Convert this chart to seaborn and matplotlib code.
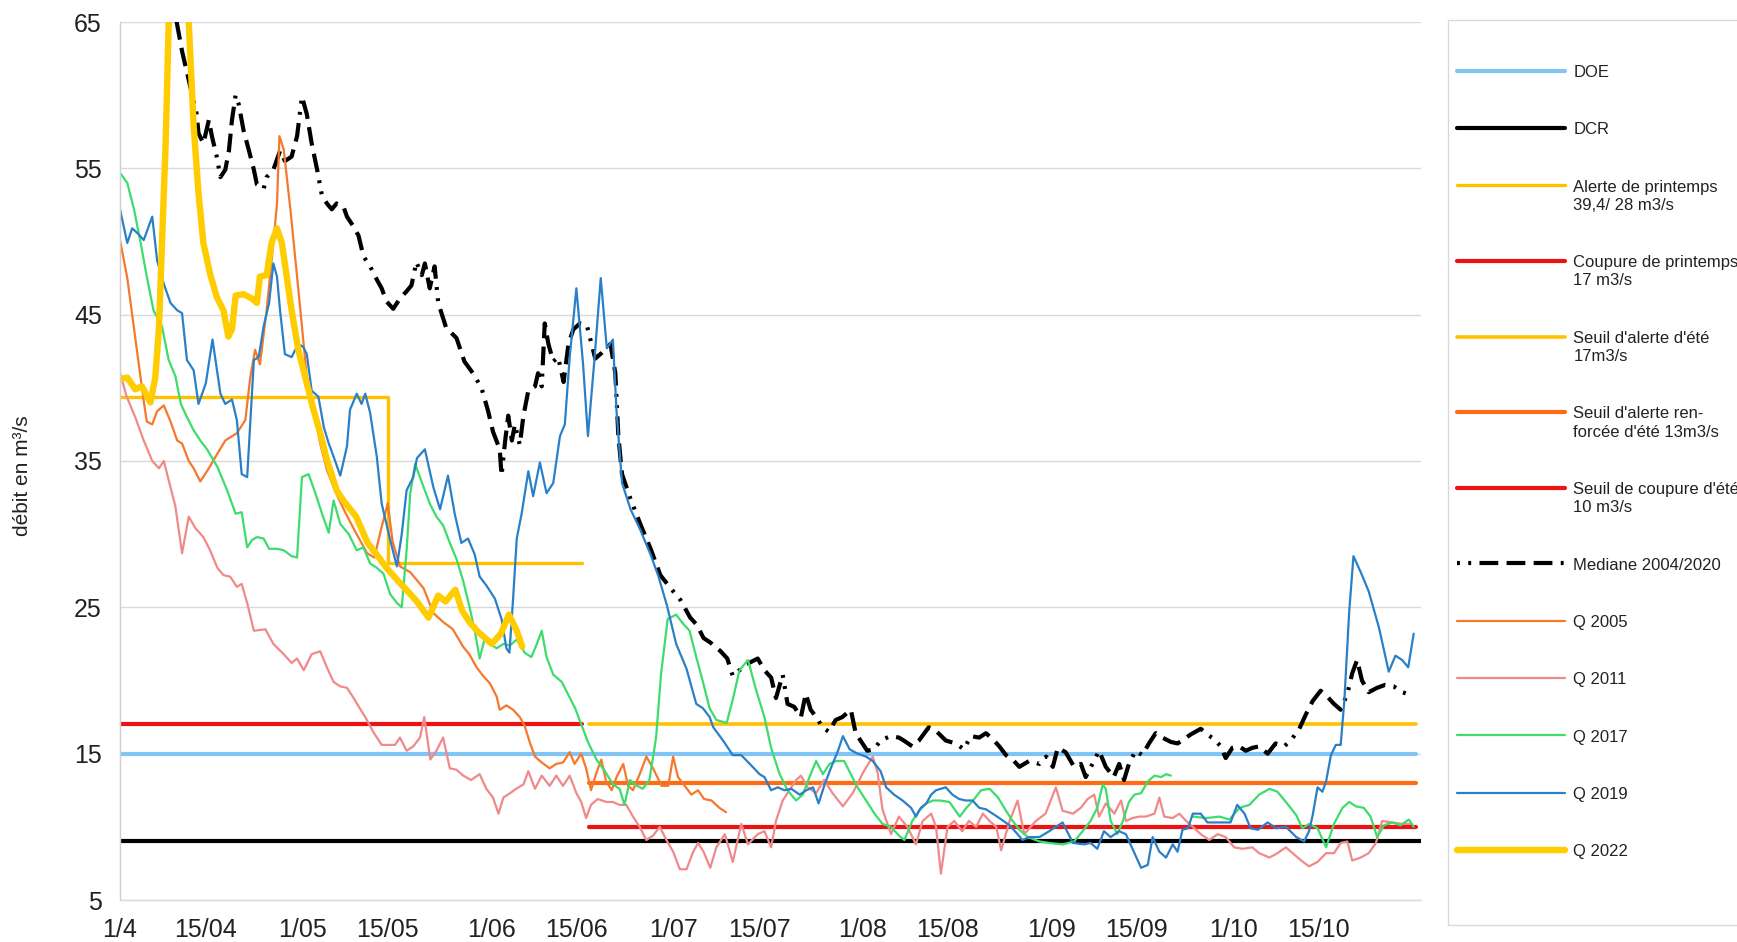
import numpy as np
import pandas as pd
import matplotlib
matplotlib.use("Agg")
import matplotlib.pyplot as plt
from matplotlib.patches import Rectangle
import seaborn as sns

# ---------------------------------------------------------------
# Axis definitions (day 0 = 1st April)
# ---------------------------------------------------------------
tick_days = [0, 14, 30, 44, 61, 75, 91, 105, 122, 136, 153, 167, 183, 197]
tick_labels = ["1/4", "15/04", "1/05", "15/05", "1/06", "15/06", "1/07",
               "15/07", "1/08", "15/08", "1/09", "15/09", "1/10", "15/10"]
y_ticks = [5, 15, 25, 35, 45, 55, 65]

# ---------------------------------------------------------------
# Regulatory thresholds (day, m3/s)
# ---------------------------------------------------------------
doe = [(0, 15), (213, 15)]
dcr = [(0, 9), (213.8, 9)]
alerte_printemps = [(0, 39.4), (44, 39.4), (44, 28), (76, 28)]
coupure_printemps = [(0, 17), (76, 17)]
alerte_ete = [(77, 17), (213, 17)]
alerte_renforcee = [(77, 13), (213, 13)]
coupure_ete = [(77, 10), (213, 10)]

# ---------------------------------------------------------------
# Flow series (day, m3/s)
# ---------------------------------------------------------------
mediane = [
    (8.5, 67.0), (9.4, 64.8), (10.2, 63.0), (11.6, 60.5), (12.6, 58.7), (12.9, 57.4),
    (13.7, 56.7), (14.6, 58.3), (15.1, 57.2), (15.9, 55.8), (16.5, 54.4), (17.3, 54.9),
    (17.9, 56.2), (18.4, 58.3), (19.0, 60.0), (19.5, 59.4), (20.3, 57.6), (21.2, 56.2),
    (22.0, 54.9), (22.5, 53.9), (23.6, 53.6), (24.1, 54.4), (25.2, 54.9), (26.3, 56.2),
    (27.1, 55.5), (28.2, 55.8), (29.1, 57.2), (29.9, 59.9), (30.7, 58.7), (31.5, 56.7),
    (32.4, 54.9), (33.2, 53.1), (34.0, 52.6), (34.8, 52.2), (35.6, 52.6), (36.7, 52.4),
    (37.3, 51.7), (38.4, 51.0), (39.2, 50.4), (40.0, 49.0), (41.1, 48.3), (42.2, 47.4),
    (43.0, 46.8), (43.8, 45.9), (44.9, 45.4), (46.0, 46.1), (47.1, 46.6), (47.9, 47.0),
    (48.7, 48.6), (49.6, 47.7), (50.1, 48.5), (50.9, 46.8), (51.7, 48.3), (52.3, 45.8),
    (53.6, 44.1), (55.3, 43.4), (56.6, 41.8), (58.0, 41.0), (59.4, 40.0), (60.5, 38.4),
    (61.3, 37.0), (62.4, 35.8), (62.7, 34.0), (63.3, 36.4), (63.8, 38.1), (64.4, 36.4),
    (64.9, 37.5), (65.7, 36.1), (66.3, 38.1), (67.1, 39.8), (68.2, 40.1), (68.7, 41.0),
    (69.3, 40.1), (69.8, 44.4), (70.4, 43.0), (71.2, 41.8), (72.0, 42.1), (72.9, 40.4),
    (73.7, 43.0), (74.5, 44.0), (75.6, 44.4), (76.7, 44.3), (77.5, 43.0), (78.1, 42.0),
    (79.2, 42.4), (80.6, 43.0), (81.4, 41.0), (81.9, 36.7), (82.5, 34.1), (83.9, 32.4),
    (85.5, 30.7), (87.2, 29.0), (88.8, 27.2), (90.5, 26.3), (92.1, 25.5), (93.7, 24.3),
    (94.8, 23.8), (95.9, 22.9), (97.0, 22.6), (98.7, 22.0), (99.8, 21.5), (100.7, 20.3),
    (101.8, 20.7), (102.9, 21.1), (104.8, 21.5), (105.9, 20.7), (107.0, 20.2), (107.8, 18.8),
    (108.9, 20.4), (109.7, 18.4), (110.8, 18.2), (111.9, 17.5), (112.7, 19.1), (113.5, 18.0),
    (114.6, 17.4), (115.4, 16.8), (116.5, 16.5), (117.6, 17.3), (118.7, 17.5), (120.1, 18.0),
    (120.9, 16.4), (122.0, 15.7), (122.8, 15.2), (123.9, 15.3), (125.0, 15.9), (126.6, 16.2),
    (128.0, 16.1), (128.8, 15.9), (130.2, 15.5), (131.3, 15.9), (132.9, 16.8), (134.0, 16.6),
    (135.7, 15.9), (137.3, 15.7), (138.7, 15.3), (139.8, 16.2), (141.2, 16.1), (142.3, 16.4),
    (143.4, 16.0), (144.5, 15.5), (145.6, 14.9), (146.9, 14.5), (147.8, 14.1), (149.4, 14.5),
    (151.1, 14.3), (152.2, 14.8), (153.3, 14.1), (154.1, 15.4), (155.4, 15.1), (156.8, 14.1),
    (157.9, 14.3), (158.7, 13.4), (159.8, 14.3), (160.9, 15.2), (162.0, 14.1), (163.3, 13.4),
    (164.2, 14.3), (165.0, 13.2), (165.8, 14.3), (166.9, 15.2), (168.0, 14.9), (169.1, 15.7),
    (170.2, 16.4), (171.3, 16.1), (172.7, 15.8), (173.8, 15.7), (174.9, 16.0), (175.9, 16.3),
    (177.6, 16.7), (178.7, 16.3), (179.8, 16.0), (180.9, 15.5), (181.7, 14.7), (182.8, 15.4),
    (183.9, 15.5), (185.0, 15.2), (186.1, 15.4), (187.2, 15.5), (188.6, 15.0), (189.9, 15.7),
    (191.3, 15.5), (192.4, 15.9), (193.8, 16.7), (194.9, 17.7), (196.0, 18.6), (197.3, 19.3),
    (198.4, 18.9), (199.5, 18.4), (200.6, 18.0), (201.7, 19.1), (202.5, 20.5), (203.3, 21.4),
    (204.1, 20.0), (205.2, 19.2), (206.6, 19.5), (207.9, 19.7), (209.3, 19.6), (210.7, 19.2),
    (212.3, 19.0),
]

q2005 = [
    (0, 50.1), (1.2, 47.5), (2.8, 42.5), (3.9, 39.1), (4.4, 37.7), (5.3, 37.5), (6.1, 38.4),
    (7.2, 38.8), (8.3, 37.7), (9.4, 36.4), (10.2, 36.2), (11.3, 35.0), (12.1, 34.5),
    (13.2, 33.6), (14.6, 34.5), (16.0, 35.5), (17.3, 36.4), (19.2, 36.9), (20.6, 37.8),
    (21.4, 40.7), (22.2, 42.6), (23.0, 41.6), (24.1, 45.3), (25.2, 49.9), (25.8, 52.6),
    (26.2, 57.2), (26.9, 56.3), (28.0, 52.2), (29.1, 47.6), (29.9, 44.2), (30.7, 40.7),
    (31.8, 38.5), (32.9, 36.2), (34.0, 34.4), (35.5, 32.8), (37.0, 31.5), (38.5, 30.3),
    (40.6, 28.7), (41.8, 28.4), (43.0, 30.5), (44.0, 32.1), (44.8, 29.5), (46.0, 27.8),
    (47.7, 27.4), (49.9, 26.3), (51.5, 24.6), (53.1, 24.0), (54.7, 23.5), (56.4, 22.3),
    (57.4, 21.8), (58.6, 20.9), (59.7, 20.3), (60.8, 19.8), (61.9, 18.9), (62.4, 18.0),
    (63.5, 18.3), (64.6, 18.0), (65.7, 17.5), (66.5, 16.9), (67.4, 15.7), (68.2, 14.8),
    (69.3, 14.4), (70.6, 14.0), (71.7, 14.3), (72.8, 14.4), (73.9, 15.1), (74.7, 14.3),
    (75.8, 15.0), (76.6, 14.0), (77.4, 12.5), (78.3, 13.7), (79.1, 14.6), (79.9, 13.1),
    (80.8, 12.5), (81.6, 13.4), (82.7, 14.3), (83.5, 12.8), (84.3, 12.5), (85.5, 13.7),
    (86.5, 14.8), (87.6, 14.0), (89.0, 12.8), (90.1, 12.8), (90.9, 14.8), (91.7, 13.4),
    (92.8, 12.8), (93.9, 12.2), (95.0, 12.5), (96.0, 11.9), (97.2, 11.8), (98.5, 11.3),
    (99.6, 11.0),
]

q2011 = [
    (0, 41.0), (1.1, 39.4), (2.5, 38.0), (3.9, 36.4), (5.3, 35.0), (6.4, 34.5), (7.2, 35.0),
    (8.0, 33.7), (9.1, 31.9), (10.2, 28.7), (11.3, 31.2), (12.4, 30.4), (13.7, 29.8),
    (14.8, 28.9), (16.0, 27.7), (17.0, 27.2), (18.1, 27.1), (19.2, 26.4), (20.0, 26.6),
    (20.9, 25.3), (22.0, 23.4), (23.9, 23.5), (25.2, 22.5), (26.9, 21.8), (28.2, 21.2),
    (29.1, 21.5), (30.2, 20.7), (31.5, 21.8), (32.9, 22.0), (34.0, 20.9), (35.1, 19.9),
    (36.2, 19.6), (37.3, 19.5), (38.4, 18.8), (39.4, 18.1), (40.3, 17.5), (41.6, 16.5),
    (43.0, 15.6), (44.4, 15.6), (45.2, 15.6), (46.0, 16.1), (47.1, 15.2), (48.2, 15.5),
    (49.3, 16.1), (50.0, 17.5), (51.0, 14.6), (52.0, 15.2), (53.1, 16.1), (54.2, 14.0),
    (55.3, 13.9), (56.4, 13.5), (57.7, 13.2), (59.1, 13.6), (60.2, 12.6), (61.3, 12.0),
    (62.2, 10.9), (63.0, 12.0), (64.1, 12.3), (65.1, 12.6), (66.3, 12.9), (67.1, 13.8),
    (68.2, 12.6), (69.3, 13.5), (70.6, 12.8), (71.7, 13.5), (72.8, 12.8), (73.9, 13.5),
    (75.0, 12.3), (75.8, 11.7), (76.6, 10.6), (77.4, 11.5), (78.5, 11.9), (79.9, 11.7),
    (81.0, 11.7), (82.1, 11.5), (83.2, 11.5), (84.3, 10.7), (85.4, 10.0), (86.5, 9.1),
    (87.6, 9.4), (88.7, 10.0), (89.8, 9.1), (90.9, 8.3), (92.0, 7.1), (93.1, 7.1),
    (94.2, 8.3), (95.0, 8.9), (95.9, 8.3), (97.0, 7.2), (98.0, 8.6), (99.4, 9.5),
    (100.7, 7.6), (102.1, 10.2), (103.2, 8.8), (104.8, 9.5), (105.9, 9.7), (107.0, 8.6),
    (107.8, 10.4), (108.9, 11.8), (110.0, 12.5), (111.1, 13.2), (111.9, 13.5), (113.0, 12.7),
    (114.4, 12.3), (115.7, 13.2), (117.1, 12.3), (118.8, 11.4), (120.4, 12.3), (122.1, 13.7),
    (123.7, 14.8), (124.5, 13.7), (125.3, 11.2), (126.7, 9.5), (128.0, 10.7), (129.4, 10.0),
    (130.8, 8.8), (131.9, 10.4), (133.3, 10.9), (134.1, 10.0), (134.9, 6.8), (136.0, 10.0),
    (137.1, 10.4), (138.4, 9.7), (139.5, 10.4), (140.7, 10.0), (141.8, 10.9), (142.9, 10.4),
    (144.0, 10.0), (144.8, 8.4), (146.2, 10.4), (147.5, 11.8), (148.6, 9.5), (150.5, 10.4),
    (152.1, 10.9), (153.8, 12.7), (154.9, 11.1), (156.6, 10.9), (157.9, 11.3), (159.0, 11.9),
    (160.1, 12.2), (160.9, 10.7), (162.0, 11.6), (163.4, 10.9), (164.5, 11.8), (165.3, 10.4),
    (166.4, 10.6), (167.5, 10.7), (168.6, 10.7), (170.0, 10.9), (170.8, 12.0), (171.6, 10.7),
    (173.0, 10.6), (174.1, 10.9), (175.2, 10.4), (176.3, 10.0), (177.6, 9.5), (179.0, 9.1),
    (180.4, 9.5), (181.7, 9.3), (183.1, 8.6), (184.5, 8.5), (186.1, 8.6), (187.2, 8.2),
    (188.9, 7.9), (190.2, 8.2), (191.6, 8.6), (192.7, 8.2), (194.1, 7.7), (195.4, 7.3),
    (196.8, 7.6), (198.2, 8.2), (199.5, 8.2), (200.6, 8.9), (201.7, 9.0), (202.5, 7.7),
    (203.9, 7.9), (205.2, 8.2), (206.4, 8.9), (207.4, 10.4), (209.1, 10.3), (210.7, 10.2),
    (212.1, 10.2),
]

# two recorded stretches, with missing days in between
q2017_a = [
    (0, 54.7), (1.2, 54.0), (2.3, 52.2), (3.4, 49.9), (4.4, 47.6), (5.5, 45.3), (6.9, 44.2),
    (8.0, 41.9), (9.1, 40.8), (10.0, 38.9), (11.0, 38.0), (12.1, 37.1), (13.2, 36.4),
    (14.3, 35.8), (16.0, 34.6), (17.6, 33.0), (19.0, 31.4), (20.0, 31.5), (20.9, 29.1),
    (21.7, 29.6), (22.5, 29.8), (23.6, 29.7), (24.5, 29.0), (25.8, 29.0), (26.9, 28.9),
    (28.2, 28.5), (29.1, 28.4), (29.9, 33.9), (31.0, 34.1), (32.1, 32.8), (33.2, 31.4),
    (34.3, 30.1), (35.1, 32.3), (36.2, 30.7), (37.6, 30.0), (38.9, 28.9), (40.0, 29.1),
    (41.1, 28.0), (42.2, 27.7), (43.3, 27.3), (44.4, 25.9), (45.5, 25.3), (46.3, 25.0),
    (47.1, 28.9), (47.7, 32.8), (48.5, 34.8), (49.9, 33.2), (51.0, 32.0), (52.0, 31.2),
    (53.1, 30.6), (54.2, 29.4), (55.3, 28.3), (56.4, 26.8), (57.4, 25.1), (58.3, 23.4),
    (59.1, 21.5), (59.9, 22.8), (60.8, 22.5), (61.9, 22.2), (63.0, 22.5), (64.1, 22.4),
    (65.2, 22.8), (66.5, 21.9), (67.6, 21.6), (68.5, 22.5), (69.3, 23.4), (70.1, 21.6),
    (71.2, 20.4), (72.6, 19.9), (73.7, 19.0), (74.8, 18.1), (75.8, 17.0), (76.9, 15.8),
    (78.3, 14.6), (79.7, 13.8), (81.0, 12.9), (82.1, 12.6), (82.9, 11.5), (83.8, 13.2),
    (84.6, 12.9), (85.9, 12.6), (87.0, 13.2), (88.1, 16.1), (88.9, 20.4), (90.0, 24.2),
    (91.4, 24.5), (92.5, 23.9), (93.6, 23.4), (94.7, 21.6), (95.8, 19.9), (96.9, 18.1),
    (98.0, 17.3), (99.7, 17.1), (100.7, 18.7), (101.8, 20.7), (103.2, 21.4), (104.5, 19.4),
    (105.9, 17.5), (107.0, 15.4), (108.4, 13.6), (109.7, 12.5), (111.1, 11.8), (112.2, 12.2),
    (113.3, 13.4), (114.4, 14.5), (115.5, 13.6), (116.6, 14.3), (117.7, 14.5), (119.0, 14.5),
    (120.1, 13.6), (121.2, 12.7), (122.6, 11.8), (124.0, 10.9), (125.3, 10.2), (126.7, 10.0),
    (128.0, 9.4), (128.9, 9.1), (130.2, 10.4), (131.3, 11.1), (132.5, 11.6), (133.6, 11.8),
    (134.7, 11.8), (136.3, 11.7), (138.0, 10.7), (139.1, 11.3), (140.2, 11.8), (141.5, 12.5),
    (142.9, 12.6), (144.3, 12.0), (145.6, 11.1), (146.7, 10.4), (147.8, 9.8), (149.2, 9.3),
    (151.1, 9.0), (152.7, 8.9), (154.9, 8.8), (156.8, 9.0), (158.2, 9.7), (159.5, 10.4),
    (160.6, 11.3), (161.5, 12.9), (162.0, 12.6), (162.8, 10.4), (163.9, 9.5), (164.8, 10.4),
    (165.8, 11.7), (166.7, 12.2), (167.8, 12.3), (168.9, 13.1), (170.0, 13.5), (171.1, 13.4),
    (171.9, 13.6), (172.7, 13.5),
]
q2017_b = [
    (176.3, 10.7), (178.5, 10.6), (180.7, 10.7), (182.3, 10.5), (184.0, 11.3), (185.6, 11.5),
    (187.2, 12.2), (188.9, 12.6), (190.2, 12.4), (191.6, 11.7), (193.3, 10.8), (194.3, 9.9),
    (195.4, 10.2), (196.8, 9.9), (198.2, 8.6), (199.5, 10.2), (200.9, 11.3), (202.0, 11.7),
    (203.1, 11.4), (204.4, 11.3), (205.5, 10.7), (206.6, 9.3), (207.7, 10.1), (209.1, 10.3),
    (210.4, 10.1), (211.8, 10.5), (212.6, 10.0),
]

q2019 = [
    (0, 52.2), (1.2, 49.9), (2.0, 50.9), (2.8, 50.6), (3.9, 50.1), (5.3, 51.7), (6.1, 48.7),
    (7.2, 47.1), (8.3, 45.8), (9.4, 45.3), (10.2, 45.1), (11.0, 41.9), (12.1, 41.2),
    (12.9, 38.9), (14.1, 40.3), (15.2, 43.3), (16.5, 39.6), (17.3, 38.9), (18.4, 39.2),
    (19.2, 37.8), (20.0, 34.1), (20.9, 33.9), (22.0, 41.9), (22.8, 42.1), (23.6, 44.2),
    (24.5, 45.8), (25.2, 48.5), (25.8, 47.6), (26.3, 45.3), (27.1, 42.3), (28.2, 42.1),
    (29.3, 43.0), (30.1, 42.8), (30.7, 42.3), (31.5, 39.8), (32.6, 39.4), (33.5, 37.3),
    (34.3, 36.2), (35.1, 35.3), (36.2, 34.0), (37.3, 36.0), (37.8, 38.5), (38.9, 39.6),
    (39.7, 38.9), (40.3, 39.6), (41.1, 38.3), (42.2, 35.3), (43.0, 32.1), (44.4, 29.6),
    (45.5, 27.8), (46.3, 30.0), (47.1, 33.0), (48.2, 33.9), (48.8, 35.2), (50.1, 35.8),
    (51.5, 33.2), (52.6, 31.7), (53.9, 34.0), (55.0, 31.4), (56.1, 29.4), (57.2, 29.7),
    (58.3, 28.6), (59.1, 27.1), (60.2, 26.5), (61.6, 25.6), (62.7, 24.2), (63.5, 22.2),
    (64.0, 21.9), (64.6, 25.6), (65.2, 29.7), (66.0, 31.4), (67.1, 34.3), (67.9, 32.6),
    (69.0, 34.9), (70.1, 32.8), (71.2, 33.5), (72.3, 36.7), (73.1, 37.5), (73.9, 42.1),
    (75.0, 46.8), (76.1, 41.6), (76.9, 36.7), (78.0, 42.1), (79.0, 47.5), (80.0, 42.7),
    (81.0, 43.3), (81.6, 38.4), (82.5, 33.5), (83.9, 31.7), (85.5, 30.3), (87.2, 28.6),
    (88.5, 27.1), (89.9, 25.1), (91.4, 22.5), (93.1, 20.8), (94.7, 18.4), (95.8, 18.1),
    (96.9, 17.5), (97.5, 16.8), (99.1, 15.9), (100.7, 14.9), (102.1, 14.9), (103.5, 14.3),
    (105.1, 13.6), (105.9, 13.4), (107.0, 12.5), (108.1, 12.7), (109.2, 12.5), (110.3, 12.6),
    (111.7, 12.2), (112.8, 12.5), (113.9, 12.7), (114.8, 11.6), (115.8, 12.9), (116.9, 14.1),
    (118.0, 15.2), (118.8, 16.2), (119.9, 15.3), (121.2, 15.0), (122.6, 14.8), (123.7, 14.5),
    (125.0, 13.8), (125.9, 12.7), (127.2, 12.2), (128.6, 11.8), (130.0, 11.3), (130.8, 10.7),
    (131.6, 11.3), (132.5, 11.6), (133.3, 12.2), (134.1, 12.5), (135.7, 12.7), (136.8, 12.2),
    (137.9, 11.9), (139.0, 11.8), (140.1, 11.8), (141.2, 11.3), (142.3, 11.2), (143.4, 10.9),
    (144.5, 10.6), (146.2, 10.1), (147.5, 9.5), (148.3, 9.1), (149.4, 9.3), (151.1, 9.3),
    (152.7, 9.7), (154.9, 10.3), (156.6, 8.9), (158.4, 8.8), (159.5, 8.9), (160.6, 8.5),
    (161.7, 9.7), (162.8, 9.3), (164.2, 9.7), (165.3, 9.5), (166.6, 8.3), (167.8, 7.2),
    (168.9, 7.4), (169.7, 9.3), (170.8, 8.3), (171.9, 7.9), (173.0, 8.8), (173.8, 8.3),
    (174.6, 9.8), (175.5, 9.9), (176.3, 10.9), (177.6, 10.9), (178.7, 10.3), (180.1, 10.3),
    (181.5, 10.3), (182.5, 10.3), (183.6, 11.5), (184.8, 10.9), (185.8, 9.9), (187.0, 9.8),
    (188.6, 10.3), (190.0, 9.9), (191.6, 10.0), (193.3, 9.3), (194.6, 9.0), (195.4, 9.7),
    (196.0, 10.8), (196.8, 12.7), (197.6, 12.4), (198.2, 13.1), (199.0, 14.9), (199.8, 15.6),
    (200.6, 15.6), (201.2, 18.6), (202.0, 24.7), (202.7, 28.5), (203.9, 27.4), (205.2, 26.1),
    (206.9, 23.6), (208.5, 20.6), (209.6, 21.7), (210.7, 21.4), (211.7, 20.9), (212.6, 23.2),
]

q2022 = [
    (0, 40.6), (1.2, 40.7), (2.5, 39.9), (3.6, 40.1), (5.0, 39.0), (5.8, 40.7), (6.4, 44.1),
    (6.9, 49.9), (7.5, 56.7), (8.0, 64.9), (9.5, 70.0), (11.3, 65.0), (12.1, 57.9),
    (12.9, 53.3), (13.7, 49.9), (14.8, 47.8), (15.9, 46.2), (17.0, 45.3), (17.8, 43.5),
    (18.4, 44.0), (19.0, 46.3), (20.3, 46.4), (21.7, 46.1), (22.5, 45.8), (23.0, 47.6),
    (24.1, 47.7), (24.9, 49.9), (25.8, 50.9), (26.6, 49.9), (27.4, 47.6), (28.2, 45.3),
    (29.3, 42.6), (30.7, 40.3), (31.8, 38.5), (32.9, 36.9), (34.0, 35.1), (35.6, 33.0),
    (36.7, 32.3), (38.8, 31.2), (40.7, 29.4), (42.2, 28.6), (43.8, 27.7), (45.7, 26.8),
    (47.5, 26.0), (48.8, 25.4), (50.7, 24.3), (52.3, 25.8), (53.5, 25.4), (55.1, 26.2),
    (56.2, 24.8), (57.4, 24.0), (58.9, 23.3), (61.1, 22.5), (62.6, 23.2), (63.9, 24.5),
    (65.2, 23.4), (66.1, 22.3),
]

# ---------------------------------------------------------------
# Styling
# ---------------------------------------------------------------
sns.set_style("white")
plt.rcParams["font.family"] = ["Liberation Sans", "DejaVu Sans"]
narrow = ["Liberation Sans Narrow", "Liberation Sans", "DejaVu Sans"]

fig = plt.figure(figsize=(17.37, 9.42), dpi=100)
ax = fig.add_axes([120 / 1737, 42 / 942, 1301 / 1737, 878 / 942])


def trace(pairs, label, color, lw, ls="-", units=None, zorder=2):
    df = pd.DataFrame(pairs, columns=["jour", "debit"])
    if units is not None:
        df["segment"] = units
    sns.lineplot(data=df, x="jour", y="debit", ax=ax, color=color, linewidth=lw,
                 linestyle=ls, label=label, estimator=None, sort=False,
                 units="segment" if units is not None else None,
                 legend=False, zorder=zorder)


median_dash = (0, (0.7, 2.0, 0.7, 2.0, 4.5, 2.0, 4.5, 2.0, 4.5, 2.0))

trace(doe, "DOE", "#80c5f5", 3.0)
trace(dcr, "DCR", "#000000", 3.0)
trace(alerte_printemps, "Alerte de printemps\n39,4/ 28 m3/s", "#ffc000", 2.4)
trace(coupure_printemps, "Coupure de printemps\n17 m3/s", "#ee1111", 3.0)
trace(alerte_ete, "Seuil d'alerte d'été\n17m3/s", "#ffc000", 2.6)
trace(alerte_renforcee, "Seuil d'alerte ren-\nforcée d'été 13m3/s", "#ff6a13", 3.0)
trace(coupure_ete, "Seuil de coupure d'été\n10 m3/s", "#ee1111", 3.0)
trace(mediane, "Mediane 2004/2020", "#000000", 3.0, ls=median_dash)
trace(q2005, "Q 2005", "#f5792c", 1.6)
trace(q2011, "Q 2011", "#f08a8a", 1.6)
trace(q2017_a + q2017_b, "Q 2017", "#3ddc6c", 1.6,
      units=[0] * len(q2017_a) + [1] * len(q2017_b))
trace(q2019, "Q 2019", "#2a80c8", 1.6)
trace(q2022, "Q 2022", "#ffcc00", 4.6)

# axes
ax.set_xlim(0, 213.8)
ax.set_ylim(5, 65)
ax.set_yticks(y_ticks)
ax.set_yticklabels([str(v) for v in y_ticks], family=narrow, fontsize=18, color="#222222")
ax.set_xticks(tick_days)
ax.set_xticklabels(tick_labels, family=narrow, fontsize=18, color="#222222")
ax.set_xticks(np.arange(0, 214), minor=True)
ax.tick_params(axis="x", which="major", length=0, pad=13)
ax.tick_params(axis="x", which="minor", length=9, width=1, color="#cfcfcf", direction="out")
ax.tick_params(axis="y", which="major", length=0, pad=13)
ax.set_xlabel("")
ax.set_ylabel("débit en m³/s", fontsize=15, color="#222222")
ax.yaxis.set_label_coords(-0.0676, 0.483)

ax.yaxis.grid(True, color="#d9d9d9", linewidth=1)
ax.xaxis.grid(False)
for side in ["top", "right"]:
    ax.spines[side].set_visible(False)
ax.spines["left"].set_color("#cfcfcf")
ax.spines["bottom"].set_color("#d9d9d9")
ax.spines["left"].set_linewidth(1)
ax.spines["bottom"].set_linewidth(1)

# legend (one entry per label), each key aligned with the first line of its text
handles, labels = ax.get_legend_handles_labels()
seen = {}
for h, l in zip(handles, labels):
    if l not in seen:
        seen[l] = h
leg = fig.legend(list(seen.values()), list(seen.keys()), loc="upper left",
                 bbox_to_anchor=(1457 / 1737, 1 - 65 / 942), frameon=False,
                 fontsize=12, handlelength=6.5, handletextpad=0.48,
                 labelspacing=2.54, borderpad=0, borderaxespad=0)
for t in leg.get_texts():
    t.set_color("#222222")
    t.set_linespacing(1.27)
try:
    for column in leg._legend_handle_box.get_children():
        for row in column.get_children():
            row.align = "top"
except AttributeError:
    pass

fig.add_artist(Rectangle((1448 / 1737, 1 - 925 / 942), (1800 - 1448) / 1737,
                         (925 - 20) / 942, transform=fig.transFigure, fill=False,
                         edgecolor="#d9d9d9", linewidth=1))

fig.savefig("out.png", dpi=100, facecolor="white")
